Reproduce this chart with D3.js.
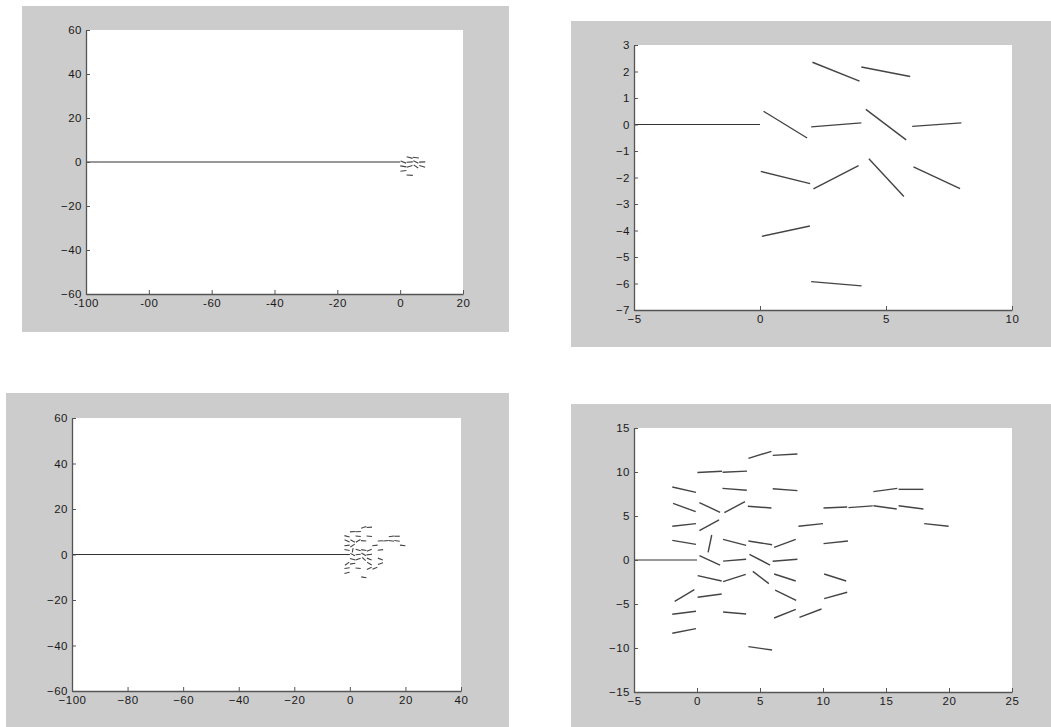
<!DOCTYPE html>
<html lang="en">
<head>
<meta charset="UTF-8">
<title>Branch segments</title>
<script src="https://d3js.org/d3.v7.min.js"></script>
<style>
  body { margin: 0; background: #fff; }
  text { font-family: "Liberation Sans", Arial, sans-serif; }
</style>
</head>
<body>
<svg width="1051" height="727"></svg>
<script>
    // stem along y = 0
    let stem = [[-100, 0], [0, 0]]

    // segments of the first (small) growth, [x1, y1, x2, y2]
    let smallTree = [
        [2.08, 2.35, 3.95, 1.64],
        [4.02, 2.17, 5.96, 1.81],
        [0.14, 0.50, 1.87, -0.51],
        [2.03, -0.09, 4.02, 0.06],
        [4.20, 0.57, 5.80, -0.58],
        [6.04, -0.07, 7.99, 0.06],
        [0.03, -1.77, 1.99, -2.23],
        [2.12, -2.43, 3.91, -1.55],
        [4.32, -1.29, 5.71, -2.72],
        [6.09, -1.60, 7.94, -2.42],
        [0.07, -4.22, 1.98, -3.83],
        [2.03, -5.93, 4.03, -6.09]
    ]

    // segments of the second (larger) growth
    let bigTree = [
        [4.08, 11.55, 5.91, 12.35],
        [6.01, 11.89, 7.97, 12.05],
        [0.03, 9.95, 1.98, 10.08],
        [2.03, 9.97, 3.97, 10.10],
        [-1.96, 8.30, -0.08, 7.69],
        [-1.90, 6.44, -0.10, 5.49],
        [-1.96, 3.83, -0.08, 4.13],
        [-1.96, 2.23, -0.08, 1.78],
        [-1.77, -4.70, -0.21, -3.37],
        [-1.96, -6.17, -0.08, -5.83],
        [-1.96, -8.33, -0.08, -7.80],
        [0.19, 6.52, 1.83, 5.42],
        [0.19, 3.33, 1.75, 4.55],
        [1.17, 2.84, 0.88, 0.87],
        [0.19, 0.50, 1.83, -0.57],
        [0.05, -1.78, 1.96, -2.39],
        [0.05, -4.24, 1.96, -3.86],
        [2.02, 8.14, 3.95, 7.92],
        [2.17, 5.38, 3.81, 6.63],
        [2.07, 2.35, 3.90, 1.67],
        [2.07, -0.13, 3.90, 0.08],
        [2.07, -2.46, 3.87, -1.63],
        [2.07, -5.91, 3.90, -6.14],
        [4.03, 6.10, 5.91, 5.91],
        [4.08, 2.16, 5.96, 1.74],
        [4.16, 0.64, 5.80, -0.57],
        [4.43, -1.29, 5.70, -2.69],
        [4.08, -9.85, 5.96, -10.23],
        [6.01, 8.10, 7.97, 7.88],
        [6.12, 1.44, 7.84, 2.35],
        [6.00, -0.15, 7.97, 0.08],
        [6.12, -1.59, 7.84, -2.39],
        [6.20, -3.41, 7.87, -4.58],
        [6.12, -6.59, 7.84, -5.61],
        [8.05, 3.83, 10.00, 4.13],
        [8.13, -6.52, 9.88, -5.57],
        [10.04, 5.91, 11.92, 6.02],
        [10.04, 1.86, 11.98, 2.16],
        [10.09, -1.59, 11.84, -2.39],
        [10.09, -4.39, 11.92, -3.67],
        [12.02, 5.95, 13.95, 6.15],
        [14.00, 6.17, 15.85, 5.80],
        [16.00, 6.17, 17.97, 5.80],
        [14.00, 7.77, 15.90, 8.14],
        [16.00, 8.03, 17.97, 8.03],
        [18.03, 4.13, 19.97, 3.83]
    ]

    // ticks and labels
    let xTicks1 = [-100, -80, -60, -40, -20, 0, 20]
    let xLabels1 = ["-100", "-00", "-60", "-40", "-20", "0", "20"]
    let yTicks1 = [-60, -40, -20, 0, 20, 40, 60]
    let xTicks2 = [-5, 0, 5, 10]
    let yTicks2 = [-7, -6, -5, -4, -3, -2, -1, 0, 1, 2, 3]
    let xTicks3 = [-100, -80, -60, -40, -20, 0, 20, 40]
    let yTicks3 = [-60, -40, -20, 0, 20, 40, 60]
    let xTicks4 = [-5, 0, 5, 10, 15, 20, 25]
    let yTicks4 = [-15, -10, -5, 0, 5, 10, 15]

    let panels = [
        {box: [22, 6, 487, 326], plot: [86, 30, 377, 264], xDom: [-100, 20], yDom: [-60, 60],
            xTicks: xTicks1, xLabels: xLabels1, yTicks: yTicks1, segs: smallTree, w: 1.1},
        {box: [571, 21, 480, 326], plot: [634, 45, 378, 265], xDom: [-5, 10], yDom: [-7, 3],
            xTicks: xTicks2, yTicks: yTicks2, segs: smallTree, w: 1.4},
        {box: [6, 393, 503, 334], plot: [72, 418, 389, 273], xDom: [-100, 40], yDom: [-60, 60],
            xTicks: xTicks3, yTicks: yTicks3, segs: bigTree, w: 1.1},
        {box: [571, 404, 480, 323], plot: [634, 428, 378, 264], xDom: [-5, 25], yDom: [-15, 15],
            xTicks: xTicks4, yTicks: yTicks4, segs: bigTree, w: 1.4}
    ]

    let svg = d3.select('svg')

    panels.forEach(function(p, i) {
        let [bx, by, bw, bh] = p.box
        let [px, py, pw, ph] = p.plot
        svg.append('rect')
            .attr('x', bx).attr('y', by).attr('width', bw).attr('height', bh)
            .attr('fill', '#cccccc')

        let g = svg.append('g').attr('transform', `translate(${px},${py})`)
        g.append('rect').attr('width', pw).attr('height', ph).attr('fill', '#fff')

        let x = d3.scaleLinear().domain(p.xDom).range([0, pw])
        let y = d3.scaleLinear().domain(p.yDom).range([ph, 0])

        g.append('clipPath').attr('id', 'clip' + i)
            .append('rect').attr('width', pw).attr('height', ph)
        let plot = g.append('g').attr('clip-path', `url(#clip${i})`)

        plot.append('path')
            .datum(stem)
            .attr('d', d3.line().x(d => x(d[0])).y(d => y(d[1])))
            .attr('stroke', '#333').attr('stroke-width', 1.2).attr('fill', 'none')

        plot.selectAll('.seg')
            .data(p.segs)
            .enter()
            .append('line')
            .attr('x1', d => x(d[0])).attr('y1', d => y(d[1]))
            .attr('x2', d => x(d[2])).attr('y2', d => y(d[3]))
            .attr('stroke', '#444')
            .attr('stroke-width', p.w)

        let xAxis = d3.axisBottom(x)
            .tickValues(p.xTicks)
            .tickSizeInner(-4).tickSizeOuter(0).tickPadding(5)
        if (p.xLabels) xAxis.tickFormat((d, k) => p.xLabels[k])
        let yAxis = d3.axisLeft(y)
            .tickValues(p.yTicks)
            .tickSizeInner(-4).tickSizeOuter(0).tickPadding(4)

        let gx = g.append('g').attr('transform', `translate(0,${ph})`).call(xAxis)
        let gy = g.append('g').call(yAxis)
        ;[gx, gy].forEach(function(a) {
            a.select('.domain').attr('stroke', '#555').attr('stroke-width', 1.3)
            a.selectAll('.tick line').attr('stroke', '#555')
            a.selectAll('.tick text')
                .attr('fill', '#1a1a1a')
                .style('font-size', '11.5px')
                .style('letter-spacing', '0.5px')
                .style('font-family', '"Liberation Sans", Arial, sans-serif')
        })
    })
</script>
</body>
</html>
